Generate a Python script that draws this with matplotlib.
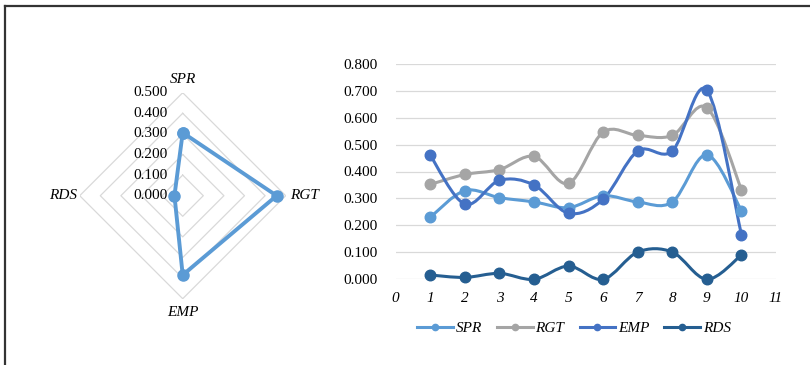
import numpy as np
import matplotlib
matplotlib.use('Agg')
import matplotlib.pyplot as plt
from matplotlib.path import Path
from matplotlib.patches import PathPatch
from matplotlib.lines import Line2D

plt.rcParams['font.family'] = ['Liberation Serif', 'DejaVu Serif']

# Data
names = ['SPR', 'RGT', 'EMP', 'RDS']
colors = ['#5B9BD5', '#A5A5A5', '#4472C4', '#255E91']
radar_vals = [0.306, 0.456, 0.385, 0.040]

x_idx = [1, 2, 3, 4, 5, 6, 7, 8, 9, 10]
spr = [0.230, 0.329, 0.303, 0.287, 0.266, 0.310, 0.287, 0.287, 0.462, 0.255]
rgt = [0.352, 0.389, 0.407, 0.456, 0.356, 0.546, 0.534, 0.534, 0.637, 0.333]
emp = [0.460, 0.279, 0.367, 0.350, 0.245, 0.297, 0.476, 0.476, 0.702, 0.166]
rds = [0.016, 0.007, 0.022, 0.000, 0.049, 0.000, 0.101, 0.101, 0.000, 0.090]
series = [spr, rgt, emp, rds]

radar_ticks = [0.0, 0.1, 0.2, 0.3, 0.4, 0.5]
y_ticks = [0.0, 0.1, 0.2, 0.3, 0.4, 0.5, 0.6, 0.7, 0.8]
x_ticks = list(range(0, 12))

FS = 11
W, H = 810, 365
fig = plt.figure(figsize=(W / 100, H / 100), dpi=100)


def fx(px):
    return px / W


def fy(py):
    return 1 - py / H


# frame lines (top and left)
fig.add_artist(Line2D([fx(5), fx(810)], [fy(6), fy(6)], color='#333333', lw=1.6))
fig.add_artist(Line2D([fx(5), fx(5)], [fy(6), fy(365)], color='#333333', lw=1.6))

# ---------- radar ----------
cx, cy, R = 182.7, 195.7, 103.0
ax1 = fig.add_axes([fx(cx - R), fy(cy + R), 2 * R / W, 2 * R / H])
ax1.set_xlim(-0.5, 0.5)
ax1.set_ylim(-0.5, 0.5)
ax1.axis('off')

# directions: SPR up, RGT right, EMP down, RDS left
dirs = np.array([[0, 1], [1, 0], [0, -1], [-1, 0]])
for r in radar_ticks[1:]:
    ring = np.vstack([dirs * r, dirs[:1] * r])
    ax1.plot(ring[:, 0], ring[:, 1], color='#D9D9D9', lw=0.9, zorder=1)
for r in radar_ticks:
    ax1.text(-0.072, r, '%.3f' % r, ha='right', va='center', fontsize=FS)

pts = dirs * np.array(radar_vals)[:, None]
closed = np.vstack([pts, pts[:1]])
ax1.plot(closed[:, 0], closed[:, 1], color=colors[0], lw=2.8, marker='o',
         markersize=8, clip_on=False, zorder=3)

ax1.text(0, 0.562, 'SPR', ha='center', va='center', fontsize=FS, style='italic')
ax1.text(0.52, 0, 'RGT', ha='left', va='center', fontsize=FS, style='italic')
ax1.text(0, -0.569, 'EMP', ha='center', va='center', fontsize=FS, style='italic')
ax1.text(-0.515, 0, 'RDS', ha='right', va='center', fontsize=FS, style='italic')

# ---------- smoothed line chart ----------
x0p, x1p, y0p, y1p = 395.7, 776.0, 279.3, 63.7
ax2 = fig.add_axes([fx(x0p), fy(y0p), (x1p - x0p) / W, (y0p - y1p) / H])
ax2.set_xlim(0, 11)
ax2.set_ylim(0, 0.8)


def smooth_path(xs, ys):
    p = np.column_stack([xs, ys]).astype(float)
    n = len(p)
    verts = [p[0]]
    codes = [Path.MOVETO]
    for i in range(n - 1):
        p0 = p[i - 1] if i > 0 else p[i]
        p1 = p[i]
        p2 = p[i + 1]
        p3 = p[i + 2] if i + 2 < n else p[i + 1]
        verts += [p1 + (p2 - p0) / 6, p2 - (p3 - p1) / 6, p2]
        codes += [Path.CURVE4] * 3
    return Path(verts, codes)


for name, vals, c in zip(names, series, colors):
    ax2.add_patch(PathPatch(smooth_path(x_idx, vals), fill=False, ec=c, lw=2.2,
                            zorder=3, clip_on=False))
    ax2.plot(x_idx, vals, ls='none', marker='o', markersize=7.6, color=c,
             zorder=4, clip_on=False)

ax2.set_yticks(y_ticks)
ax2.set_yticklabels(['%.3f' % v for v in y_ticks], fontsize=FS)
ax2.set_xticks(x_ticks)
ax2.set_xticklabels([str(v) for v in x_ticks], fontsize=FS, style='italic')
ax2.tick_params(length=0)
ax2.tick_params(axis='y', pad=13)
ax2.tick_params(axis='x', pad=9)
ax2.grid(axis='y', color='#D9D9D9', lw=0.9)
ax2.set_axisbelow(True)
for s in ax2.spines.values():
    s.set_visible(False)

handles = [Line2D([], [], color=c, lw=2.2, marker='o', markersize=4.5) for c in colors]
fig.legend(handles, names, loc='center', bbox_to_anchor=(fx(574), fy(328)),
           ncol=4, frameon=False, handlelength=2.35, handletextpad=0.15,
           columnspacing=1.0, prop={'size': FS, 'style': 'italic'})

fig.savefig('out.png', dpi=100)
